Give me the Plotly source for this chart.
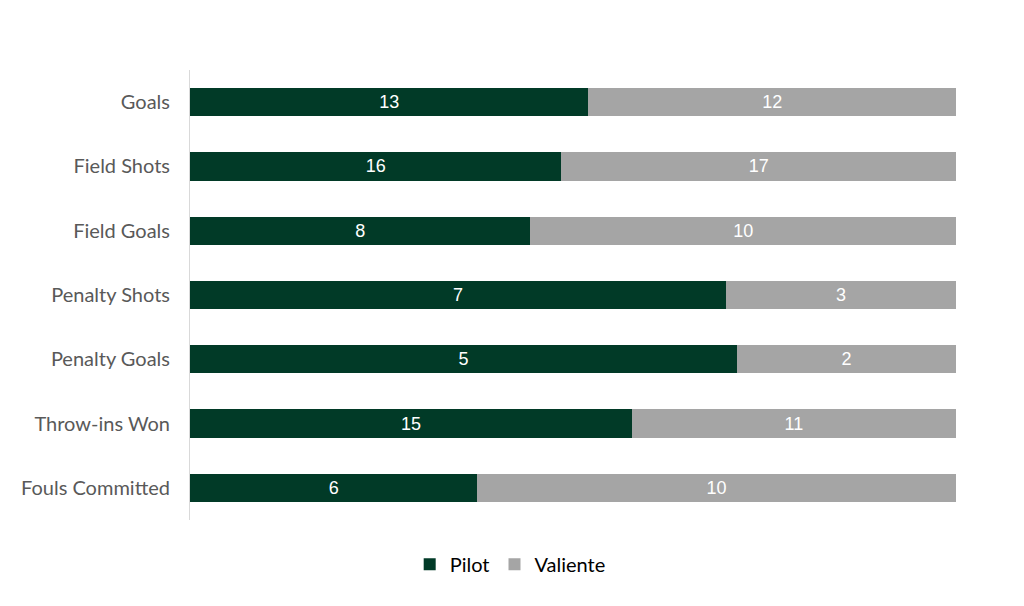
import plotly.graph_objects as go

categories = ["Goals", "Field Shots", "Field Goals", "Penalty Shots", "Penalty Goals", "Throw-ins Won", "Fouls Committed"]
pilot = [13, 16, 8, 7, 5, 15, 6]
valiente = [12, 17, 10, 3, 2, 11, 10]

fig = go.Figure()
fig.add_trace(go.Bar(
    y=categories, x=pilot, name="Pilot", orientation="h",
    marker=dict(color="#013A27", line=dict(width=0)),
    text=[str(v) for v in pilot], textposition="inside", insidetextanchor="middle",
    textfont=dict(family="Arial, Liberation Sans", size=18, color="white"),
))
fig.add_trace(go.Bar(
    y=categories, x=valiente, name="Valiente", orientation="h",
    marker=dict(color="#A5A5A5", line=dict(width=0)),
    text=[str(v) for v in valiente], textposition="inside", insidetextanchor="middle",
    textfont=dict(family="Arial, Liberation Sans", size=18, color="white"),
))

fig.update_layout(
    barmode="stack", barnorm="percent", bargap=0.56,
    width=1024, height=606,
    margin=dict(l=182, r=76, t=62, b=94, autoexpand=False),
    paper_bgcolor="white", plot_bgcolor="white",
    font=dict(family="Lato", color="#595959"),
    showlegend=True,
    legend=dict(orientation="h", x=0.418, xanchor="center", y=-0.055, yanchor="top",
                font=dict(family="Lato", size=20, color="#000000"),
                itemwidth=30, traceorder="normal", tracegroupgap=0),
    uniformtext=dict(mode=False),
)
fig.update_xaxes(range=[0, 100], visible=False, showgrid=False, zeroline=False)
fig.update_yaxes(autorange="reversed", showline=True, linecolor="#D9D9D9", linewidth=1,
                 ticks="", ticklen=0, ticklabelstandoff=15,
                 tickfont=dict(family="Lato", size=20, color="#595959"),
                 showgrid=False, automargin=False)

fig.write_html("out.html")
